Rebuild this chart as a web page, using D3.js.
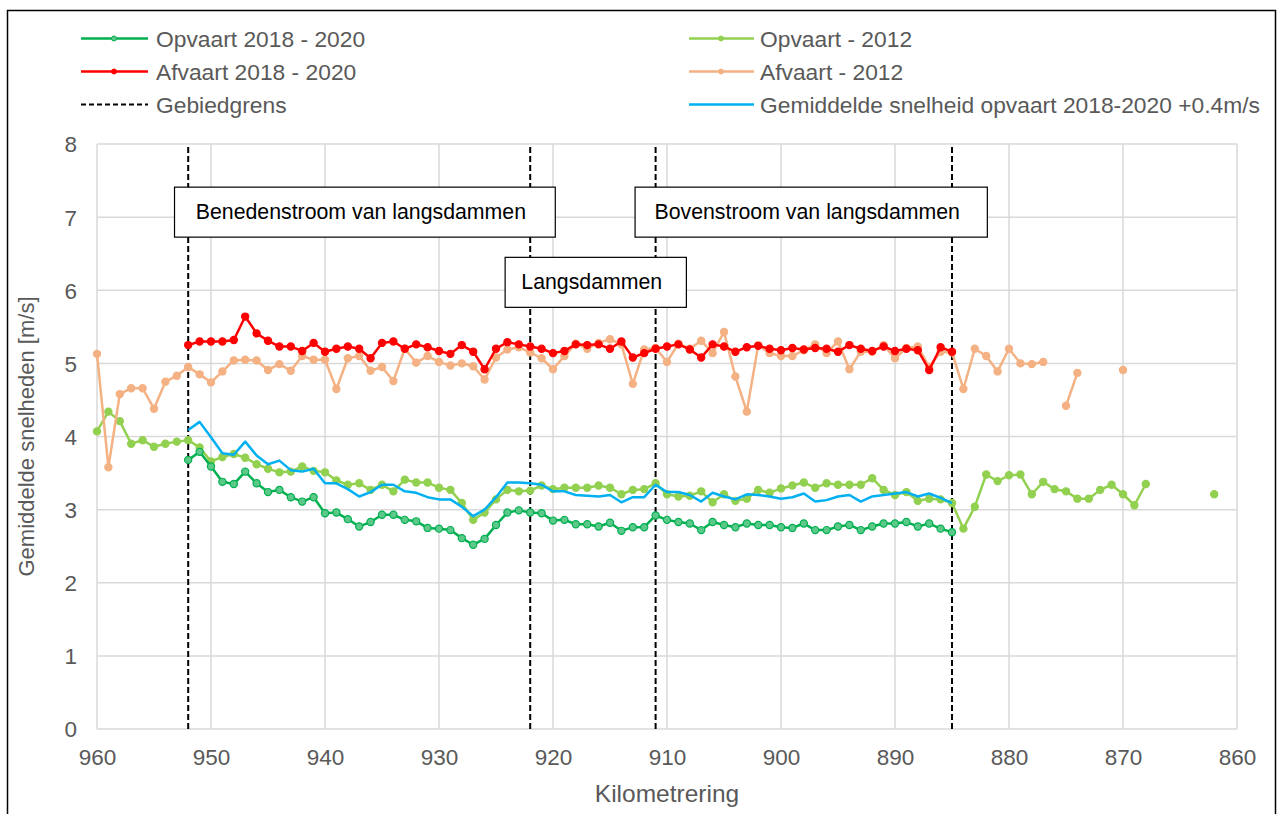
<!DOCTYPE html>
<html>
<head>
<meta charset="utf-8">
<script src="https://cdn.jsdelivr.net/npm/d3@7"></script>
<style>
body { margin: 0; background: #fff; }
text { font-family: "Liberation Sans", Arial, sans-serif; }
</style>
</head>
<body>
<svg width="1282" height="814"></svg>
<script>
// km positions (reversed axis: 960 on the left)
var kmFull = d3.range(960, 861, -1);      // 960 .. 862
var kmNew = d3.range(952, 884, -1);       // 952 .. 885

// Opvaart - 2012 (960 .. 862, null = no data)
var opvaart2012 = [4.07, 4.34, 4.21, 3.90, 3.95, 3.86, 3.90, 3.93, 3.95, 3.85,
	3.66, 3.72, 3.76, 3.71, 3.62, 3.56, 3.51, 3.52, 3.59, 3.53,
	3.51, 3.40, 3.34, 3.36, 3.27, 3.34, 3.25, 3.41, 3.37, 3.37,
	3.30, 3.27, 3.09, 2.86, 2.96, 3.14, 3.27, 3.25, 3.26, 3.33,
	3.28, 3.30, 3.30, 3.30, 3.33, 3.30, 3.21, 3.27, 3.28, 3.36,
	3.21, 3.18, 3.19, 3.25, 3.10, 3.21, 3.12, 3.15, 3.27, 3.23,
	3.29, 3.33, 3.37, 3.30, 3.36, 3.34, 3.34, 3.34, 3.43, 3.27,
	3.20, 3.24, 3.12, 3.15, 3.14, 3.09, 2.74, 3.04, 3.48, 3.39,
	3.47, 3.48, 3.21, 3.38, 3.28, 3.25, 3.15, 3.15, 3.27, 3.34,
	3.21, 3.06, 3.35, null, null, null, null, null, 3.21];

// Afvaart - 2012 (960 .. 862)
var afvaart2012 = [5.13, 3.58, 4.58, 4.66, 4.66, 4.38, 4.75, 4.83, 4.95, 4.85,
	4.74, 4.89, 5.04, 5.05, 5.04, 4.91, 4.99, 4.90, 5.10, 5.05,
	5.05, 4.65, 5.07, 5.10, 4.90, 4.95, 4.76, 5.20, 5.01, 5.10,
	5.02, 4.97, 5.00, 4.96, 4.78, 5.08, 5.19, 5.22, 5.15, 5.07,
	4.92, 5.10, 5.27, 5.20, 5.28, 5.33, 5.26, 4.72, 5.19, 5.21,
	5.02, 5.27, 5.20, 5.31, 5.14, 5.43, 4.82, 4.34, 5.25, 5.14,
	5.10, 5.10, 5.18, 5.26, 5.14, 5.30, 4.92, 5.16, 5.16, 5.25,
	5.07, 5.21, 5.23, 4.95, 5.16, 5.15, 4.65, 5.20, 5.10, 4.89,
	5.20, 5.00, 4.99, 5.02, null, 4.42, 4.87, null, null, null,
	4.91, null, null, null, null, null, null, null, null];

// Opvaart 2018 - 2020 (952 .. 885)
var opvaartNew = [3.68, 3.79, 3.59, 3.38, 3.35, 3.52, 3.36, 3.24, 3.27, 3.17,
	3.11, 3.17, 2.95, 2.96, 2.87, 2.77, 2.83, 2.93, 2.93, 2.86,
	2.84, 2.75, 2.74, 2.72, 2.61, 2.52, 2.60, 2.79, 2.96, 2.99,
	2.96, 2.95, 2.85, 2.86, 2.80, 2.80, 2.77, 2.82, 2.71, 2.76,
	2.76, 2.92, 2.86, 2.83, 2.81, 2.72, 2.83, 2.79, 2.76, 2.81,
	2.79, 2.79, 2.76, 2.75, 2.81, 2.72, 2.72, 2.77, 2.79, 2.72,
	2.77, 2.81, 2.81, 2.83, 2.77, 2.81, 2.74, 2.69];

// Afvaart 2018 - 2020 (952 .. 885)
var afvaartNew = [5.25, 5.30, 5.30, 5.30, 5.32, 5.64, 5.41, 5.31, 5.23, 5.23,
	5.17, 5.28, 5.16, 5.20, 5.23, 5.20, 5.07, 5.28, 5.30, 5.20,
	5.26, 5.22, 5.17, 5.13, 5.25, 5.16, 4.92, 5.20, 5.29, 5.26,
	5.23, 5.20, 5.14, 5.17, 5.26, 5.25, 5.26, 5.20, 5.30, 5.08,
	5.14, 5.20, 5.23, 5.26, 5.19, 5.08, 5.26, 5.23, 5.16, 5.22,
	5.24, 5.20, 5.18, 5.21, 5.19, 5.21, 5.20, 5.16, 5.25, 5.20,
	5.17, 5.23, 5.17, 5.20, 5.18, 4.91, 5.22, 5.16];

// Gemiddelde snelheid opvaart 2018-2020 +0.4m/s (952 .. 885)
var gemiddeld = [4.09, 4.20, 3.99, 3.77, 3.75, 3.93, 3.74, 3.62, 3.67, 3.54,
	3.52, 3.56, 3.36, 3.36, 3.28, 3.18, 3.24, 3.34, 3.34, 3.25,
	3.23, 3.17, 3.14, 3.14, 3.04, 2.91, 3.00, 3.17, 3.37, 3.37,
	3.36, 3.34, 3.25, 3.25, 3.20, 3.19, 3.18, 3.20, 3.10, 3.17,
	3.17, 3.34, 3.24, 3.24, 3.20, 3.11, 3.23, 3.18, 3.14, 3.21,
	3.20, 3.18, 3.15, 3.17, 3.22, 3.11, 3.13, 3.18, 3.20, 3.11,
	3.18, 3.20, 3.22, 3.24, 3.18, 3.22, 3.16, 3.09];

var gebiedgrens = [952, 922, 911, 885];

var xTicks = d3.range(960, 859, -10);
var yTicks = d3.range(0, 9, 1);

var boxes = [
	{ text: "Benedenstroom van langsdammen", km0: 953.2, km1: 919.8, y: 7.41 },
	{ text: "Langsdammen", km0: 924.2, km1: 908.3, y: 6.45 },
	{ text: "Bovenstroom van langsdammen", km0: 912.8, km1: 881.9, y: 7.41 }
];

var legendItems = [
	{ name: "Opvaart 2018 - 2020", color: "#00b050", type: "marker", col: 0, row: 0 },
	{ name: "Afvaart 2018 - 2020", color: "#ff0000", type: "marker", col: 0, row: 1 },
	{ name: "Gebiedgrens", color: "#000", type: "dash", col: 0, row: 2 },
	{ name: "Opvaart - 2012", color: "#92d050", type: "marker", col: 1, row: 0 },
	{ name: "Afvaart - 2012", color: "#f4b183", type: "marker", col: 1, row: 1 },
	{ name: "Gemiddelde snelheid opvaart 2018-2020 +0.4m/s", color: "#00b0f0", type: "line", col: 1, row: 2 }
];

var svg = d3.select("svg");
var margin = { left: 97, right: 45, top: 144, bottom: 85 };
var width = 1282, height = 814;

var x = d3.scaleLinear().domain([960, 860]).range([margin.left, width - margin.right]);
var y = d3.scaleLinear().domain([0, 8]).range([height - margin.bottom, margin.top]);

// outer frame
svg.append("rect")
	.attr("x", 7.5).attr("y", 10.5)
	.attr("width", 1268).attr("height", 830)
	.attr("fill", "none").attr("stroke", "#000").attr("stroke-width", 1.5);

// gridlines
var grid = svg.append("g").attr("class", "grid");
grid.selectAll("line.h").data(yTicks).enter().append("line")
	.attr("x1", x(960)).attr("x2", x(860))
	.attr("y1", (d) => y(d)).attr("y2", (d) => y(d))
	.attr("stroke", "#d9d9d9").attr("stroke-width", 1.5);
grid.selectAll("line.v").data(xTicks).enter().append("line")
	.attr("x1", (d) => x(d)).attr("x2", (d) => x(d))
	.attr("y1", y(0)).attr("y2", y(8))
	.attr("stroke", "#d9d9d9").attr("stroke-width", 1.5);

// axes (labels only)
var xAxis = svg.append("g")
	.attr("transform", "translate(0," + (y(0) + 16) + ")")
	.call(d3.axisBottom(x).tickValues(xTicks).tickSize(0).tickPadding(0));
var yAxis = svg.append("g")
	.attr("transform", "translate(" + (x(960) - 20) + ",0)")
	.call(d3.axisLeft(y).tickValues(yTicks).tickSize(0).tickPadding(0));
[xAxis, yAxis].forEach((a) => {
	a.select(".domain").remove();
	a.selectAll("text")
		.attr("fill", "#595959")
		.style("font-size", "22.5px")
		.style("font-family", "'Liberation Sans', Arial, sans-serif");
});
xAxis.selectAll("text").attr("dy", "0.9em");
yAxis.selectAll("text").attr("dy", "0.35em");

// axis titles
svg.append("text")
	.attr("x", (x(960) + x(860)) / 2).attr("y", 802)
	.attr("text-anchor", "middle")
	.attr("fill", "#595959").style("font-size", "24.5px")
	.text("Kilometrering");
svg.append("text")
	.attr("transform", "translate(34," + ((y(0) + y(8)) / 2) + ") rotate(-90)")
	.attr("text-anchor", "middle")
	.attr("fill", "#595959").style("font-size", "22px")
	.text("Gemiddelde snelheden [m/s]");

// boundary lines
svg.append("g").selectAll("line").data(gebiedgrens).enter().append("line")
	.attr("x1", (d) => x(d)).attr("x2", (d) => x(d))
	.attr("y1", y(0)).attr("y2", y(8))
	.attr("stroke", "#000").attr("stroke-width", 2)
	.attr("stroke-dasharray", "6,3");

// series
function drawSeries(kms, vals, color, markers, fill) {
	var data = kms.map((k, i) => ({ km: k, v: vals[i] }));
	var line = d3.line()
		.defined((d) => d.v != null)
		.x((d) => x(d.km))
		.y((d) => y(d.v));
	var g = svg.append("g");
	g.append("path")
		.datum(data)
		.attr("d", line)
		.attr("fill", "none")
		.attr("stroke", color)
		.attr("stroke-width", 2.5)
		.attr("stroke-linejoin", "round");
	if (markers) {
		g.selectAll("circle")
			.data(data.filter((d) => d.v != null))
			.enter().append("circle")
			.attr("cx", (d) => x(d.km))
			.attr("cy", (d) => y(d.v))
			.attr("r", 3.6)
			.attr("fill", fill || color)
			.attr("stroke", color)
			.attr("stroke-width", 1.2);
	}
}

drawSeries(kmFull, opvaart2012, "#92d050", true);
drawSeries(kmFull, afvaart2012, "#f4b183", true);
drawSeries(kmNew, opvaartNew, "#00b050", true, "#5cc98a");
drawSeries(kmNew, afvaartNew, "#ff0000", true);
drawSeries(kmNew, gemiddeld, "#00b0f0", false);

// region labels
var bg = svg.append("g").selectAll("g").data(boxes).enter().append("g");
bg.append("rect")
	.attr("x", (d) => x(d.km0))
	.attr("y", (d) => y(d.y))
	.attr("width", (d) => x(d.km1) - x(d.km0))
	.attr("height", 50)
	.attr("fill", "#fff").attr("stroke", "#000").attr("stroke-width", 1.2);
bg.append("text")
	.attr("x", (d) => (x(d.km0) + x(d.km1)) / 2 - 4)
	.attr("y", (d) => y(d.y) + 32)
	.attr("text-anchor", "middle")
	.attr("fill", "#000").style("font-size", "21.3px")
	.text((d) => d.text);

// legend
var lg = svg.append("g").selectAll("g").data(legendItems).enter().append("g")
	.attr("transform", (d) => "translate(" + (d.col ? 689 : 81) + "," + (38.5 + d.row * 33) + ")");
lg.append("line")
	.attr("x1", 0).attr("x2", (d) => d.col ? 65 : 67)
	.attr("stroke", (d) => d.color)
	.attr("stroke-width", (d) => d.type == "dash" ? 2 : 2.5)
	.attr("stroke-dasharray", (d) => d.type == "dash" ? "5,3" : null);
lg.filter((d) => d.type == "marker").append("circle")
	.attr("cx", (d) => d.col ? 32 : 33).attr("r", 2.5)
	.attr("fill", (d) => d.color == "#00b050" ? "#5cc98a" : d.color)
	.attr("stroke", (d) => d.color);
lg.append("text")
	.attr("x", (d) => d.col ? 71 : 75)
	.attr("dy", "0.36em")
	.attr("fill", "#595959").style("font-size", "22.8px")
	.text((d) => d.name);
</script>
</body>
</html>
